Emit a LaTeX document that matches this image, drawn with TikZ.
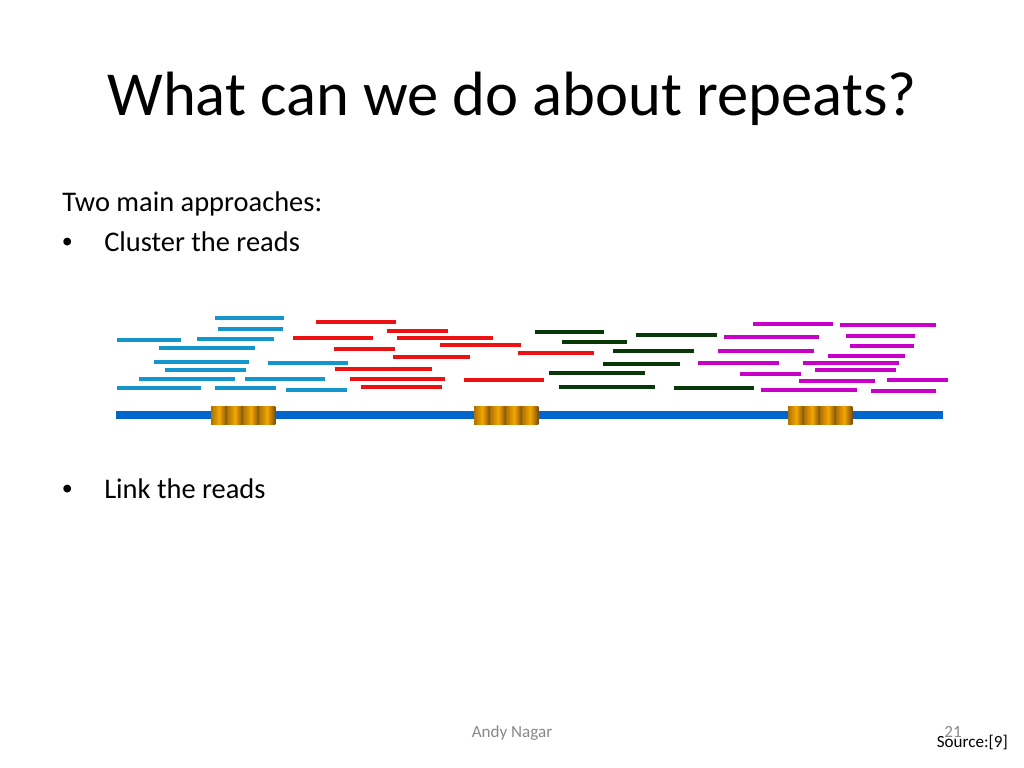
\documentclass[tikz,border=0pt]{standalone}
\usepackage{fontspec}
\setmainfont{Carlito}
\newfontfamily\bulfont{Liberation Sans}
\begin{document}
\begin{tikzpicture}[x=0.703125pt,y=-0.703125pt,
  rd/.style={line width=2.2pt},
  bl/.style={rd,draw={rgb,255:red,20;green,150;blue,205}},
  re/.style={rd,draw={rgb,255:red,238;green,17;blue,17}},
  gr/.style={rd,draw={rgb,255:red,8;green,56;blue,8}},
  mg/.style={rd,draw={rgb,255:red,200;green,0;blue,200}},
  txt/.style={inner sep=0pt,anchor=base west,font=\fontsize{20}{24}\selectfont}
]
\useasboundingbox (0,0) rectangle (1024,768);
\fill[white] (0,0) rectangle (1024,768);
\definecolor{dk}{RGB}{122,78,12}
\definecolor{br}{RGB}{245,168,0}
\definecolor{backbone}{RGB}{0,102,204}

\node[inner sep=0pt,anchor=base,font=\fontsize{44}{50}\selectfont] (title) at (512,116) {What can we do about repeats?};
\node[txt] (t1) at (62,212) {Two main approaches:};
\node[txt] (b1) at (62,252) {\bulfont •};
\node[txt] (t2) at (104,252) {Cluster the reads};
\node[txt] (b2) at (62,498) {\bulfont •};
\node[txt] (t3) at (104,498) {Link the reads};

% backbone
\fill[backbone] (116,411) rectangle (943,419);
% repeat boxes
\foreach \bx in {211,474,788}{
  \foreach \i in {0,...,7}{
    \pgfmathtruncatemacro{\odd}{mod(\i,2)}
    \ifnum\odd=0
      \shade[left color=dk!60!br,right color=br,shading angle=90] ({\bx+\i*8},406) rectangle ({\bx+\i*8+8.3},424);
    \else
      \shade[left color=br,right color=dk,shading angle=90] ({\bx+\i*8},406) rectangle ({\bx+\i*8+8.3},424);
    \fi
  }
}

% blue reads
\foreach \a/\b/\y in {215/284/318,218/283/329,117/181/340,197/274/339,159/255/348,154/249/362,268/348/363,165/246/370,139/235/379,245/325/379,117/201/388,215/276/388,286/347/390}
  \draw[bl] (\a,\y) -- (\b,\y);
% red reads
\foreach \a/\b/\y in {316/396/322,387/448/331,293/373/338,397/493/338,334/395/349,440/521/345,393/470/357,518/594/353,335/432/369,350/445/379,464/544/380,361/442/387}
  \draw[re] (\a,\y) -- (\b,\y);
% green reads
\foreach \a/\b/\y in {535/604/332,636/717/335,562/627/342,613/694/351,603/680/364,549/645/373,559/655/387,674/754/388}
  \draw[gr] (\a,\y) -- (\b,\y);
% magenta reads
\foreach \a/\b/\y in {753/833/324,840/936/325,724/819/337,846/915/336,850/914/346,718/814/351,828/905/356,698/779/363,803/899/363,815/896/370,740/801/374,799/875/381,887/948/380,761/857/390,871/936/391}
  \draw[mg] (\a,\y) -- (\b,\y);

% footer
\node[inner sep=0pt,anchor=base,font=\fontsize{12}{14}\selectfont,text={rgb,255:red,137;green,137;blue,137}] (foot) at (512,737) {Andy Nagar};
\node[inner sep=0pt,anchor=base east,font=\fontsize{12}{14}\selectfont,text={rgb,255:red,137;green,137;blue,137}] (num) at (962,737) {21};
\node[inner sep=0pt,anchor=base east,font=\fontsize{12}{14}\selectfont] (src) at (1008,747) {Source:[9]};
\end{tikzpicture}
\end{document}
